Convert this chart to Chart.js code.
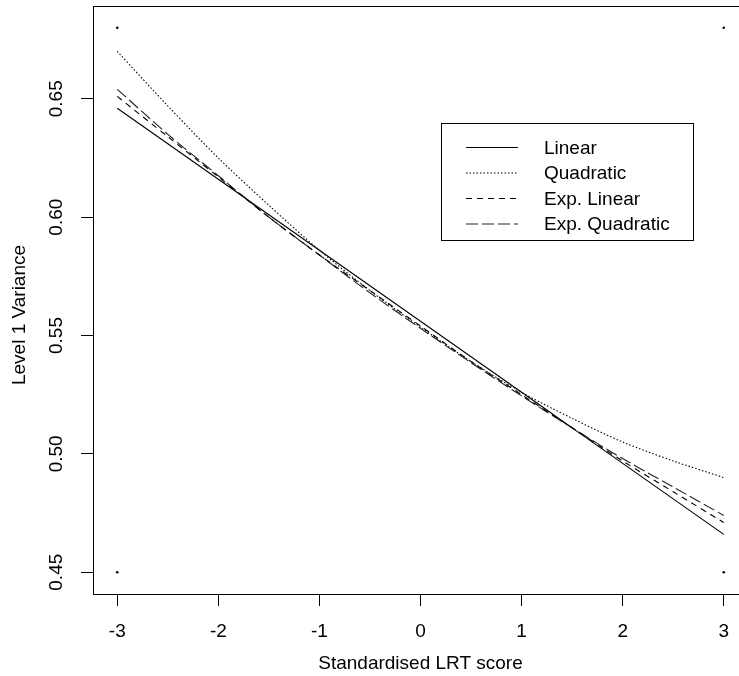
<!DOCTYPE html>
<html><head><meta charset="utf-8">
<script src="https://cdn.jsdelivr.net/npm/chart.js@4"></script>
<style>
html,body{margin:0;padding:0;overflow:hidden;background:#fff;width:739px;height:676px}
#wrap{position:absolute;left:0;top:0;width:760px;height:676px}
</style>
</head><body><div id="wrap"><canvas id="c" width="760" height="676"></canvas></div>
<script>
// ---- data ----
const xValues = [-3,-2.5,-2,-1.5,-1,-0.5,0,0.5,1,1.5,2,2.5,3];
const linear = [0.646,0.631,0.616,0.601,0.586,0.571,0.556,0.541,0.526,0.511,0.496,0.481,0.466];
const quadratic = [0.670,0.647,0.625,0.605,0.586,0.569,0.5535,0.539,0.526,0.515,0.505,0.497,0.490];
const expLinear = [0.651,0.634,0.617,0.600,0.584,0.569,0.554,0.539,0.525,0.511,0.497,0.484,0.471];
const expQuadratic = [0.654,0.635,0.6175,0.600,0.584,0.568,0.553,0.5385,0.5245,0.511,0.498,0.486,0.474];
const seriesNames = ['Linear','Quadratic','Exp. Linear','Exp. Quadratic'];
const cornerX = [-3,-3,3,3];
const cornerY = [0.68,0.45,0.68,0.45];
const xTicks = [-3,-2,-1,0,1,2,3];
const yTicks = [0.45,0.50,0.55,0.60,0.65];
const xTitle = 'Standardised LRT score';
const yTitle = 'Level 1 Variance';

const FONT = '"Liberation Sans", Arial, Helvetica, sans-serif';
const FS = 19;
Chart.defaults.color = '#000';
Chart.defaults.font.family = FONT;
Chart.defaults.font.size = FS;

const pts = arr => xValues.map((x,i)=>({x:x,y:arr[i]}));
const styles = [
  {dash:[], color:'#000'},
  {dash:[1.5,2], color:'#000'},
  {dash:[6,5], color:'#000'},
  {dash:[12,4], color:'#222'}
];
const seriesData = [linear, quadratic, expLinear, expQuadratic];
const datasets = seriesData.map((arr,i)=>({
  label: seriesNames[i],
  data: pts(arr),
  borderColor: styles[i].color,
  borderDash: styles[i].dash,
  borderWidth: 1.1,
  pointRadius: 0,
  fill: false,
  tension: 0.3
}));
datasets.push({
  label: 'corners',
  data: cornerX.map((x,i)=>({x:x,y:cornerY[i]})),
  showLine: false,
  pointRadius: 1.3,
  pointBackgroundColor: '#000',
  pointBorderWidth: 0
});

const framePlugin = {
  id: 'frame',
  afterDraw(chart) {
    const ctx = chart.ctx, a = chart.chartArea;
    ctx.save();
    ctx.strokeStyle = '#000';
    ctx.lineWidth = 1;
    ctx.setLineDash([]);
    ctx.strokeRect(Math.round(a.left)+0.5, Math.round(a.top)+0.5, Math.round(a.right-a.left), Math.round(a.bottom-a.top));
    // y title
    ctx.fillStyle = '#000';
    ctx.font = FS + 'px ' + FONT;
    ctx.textAlign = 'center';
    ctx.textBaseline = 'middle';
    ctx.translate(20, 315);
    ctx.rotate(-Math.PI/2);
    ctx.fillText(yTitle, 0, 0);
    ctx.restore();

    // legend
    ctx.save();
    ctx.strokeStyle = '#000';
    ctx.lineWidth = 1;
    ctx.strokeRect(441.5, 123.5, 252, 117);
    const rows = [147.5, 173, 198.5, 224];
    ctx.font = FS + 'px ' + FONT;
    ctx.fillStyle = '#000';
    ctx.textAlign = 'left';
    ctx.textBaseline = 'middle';
    for (let i=0;i<4;i++) {
      const ds = chart.data.datasets[i];
      ctx.beginPath();
      ctx.setLineDash(ds.borderDash);
      ctx.strokeStyle = ds.borderColor;
      ctx.lineWidth = ds.borderWidth;
      ctx.moveTo(466, rows[i]);
      ctx.lineTo(518, rows[i]);
      ctx.stroke();
      ctx.setLineDash([]);
      ctx.fillText(ds.label, 544, rows[i]+1);
    }
    ctx.restore();
  }
};

new Chart(document.getElementById('c'), {
  type: 'line',
  data: { datasets: datasets },
  options: {
    responsive: false,
    animation: false,
    devicePixelRatio: 1,
    layout: { padding: { left: 0, top: 6, right: 12, bottom: 0 } },
    plugins: { legend: { display: false }, tooltip: { enabled: false } },
    scales: {
      x: {
        type: 'linear',
        min: -3.24, max: 3.24,
        afterBuildTicks: s => { s.ticks = xTicks.map(v=>({value:v})); },
        afterFit: s => { s.height = 82; s.paddingLeft = 0; s.paddingRight = 0; },
        border: { display: false },
        grid: { drawOnChartArea: false, drawTicks: true, tickLength: 12, color: '#000', lineWidth: 1 },
        ticks: { padding: 14, maxRotation: 0, minRotation: 0, color: '#000', font: { size: FS },
          callback: v => String(v) },
        title: { display: true, text: xTitle, color: '#000', font: { size: FS }, padding: { top: 0, bottom: 1 } }
      },
      y: {
        type: 'linear',
        min: 0.4408, max: 0.6892,
        afterBuildTicks: s => { s.ticks = yTicks.map(v=>({value:v})); },
        afterFit: s => { s.width = 93; s.paddingTop = 0; s.paddingBottom = 0; },
        border: { display: false },
        grid: { drawOnChartArea: false, drawTicks: true, tickLength: 12, color: '#000', lineWidth: 1 },
        ticks: { padding: 5.5, minRotation: 90, maxRotation: 90, crossAlign: 'center', color: '#000', font: { size: FS },
          callback: v => v.toFixed(2) }
      }
    }
  },
  plugins: [framePlugin]
});
</script>
</body></html>
